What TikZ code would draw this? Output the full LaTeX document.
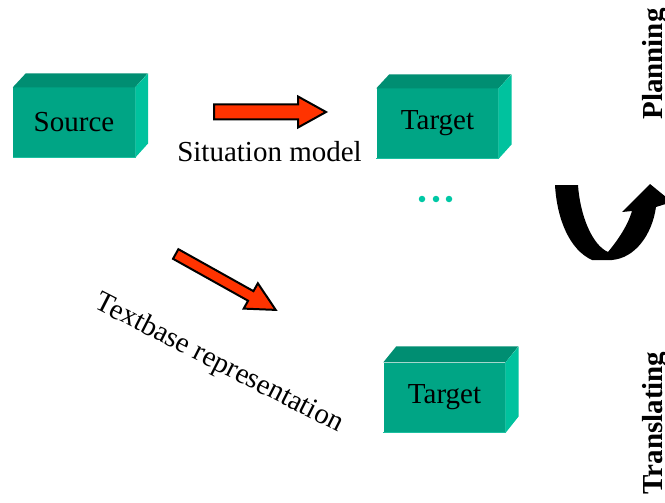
\documentclass[tikz,border=0pt]{standalone}
\usepackage{fontspec}
\setmainfont{Liberation Serif}
\definecolor{frontc}{HTML}{00A585}
\definecolor{topc}{HTML}{008E72}
\definecolor{sidec}{HTML}{00C29E}
\definecolor{edgec}{HTML}{1CBFA0}
\definecolor{dotc}{HTML}{00C8A5}
\definecolor{arrowred}{HTML}{FF3300}
\begin{document}
\begin{tikzpicture}[x=1pt,y=-1pt,
  box/.style={fill=frontc, minimum width=122pt, minimum height=70pt, inner sep=0pt,
    font=\fontsize{29}{33}\selectfont},
  lbl/.style={font=\fontsize{29}{33}\selectfont, inner sep=0pt},
  vlbl/.style={font=\fontsize{29}{33}\selectfont\bfseries, inner sep=0pt, rotate=90},
  redarrow/.style={fill=arrowred, draw=black, line width=2pt, line join=miter},
  dot/.style={circle, fill=dotc, inner sep=0pt, minimum size=6.5pt}
]
\useasboundingbox (0,0) rectangle (665,503);

% boxes
\node[box] (src) at (74,122.5) {Source};
\node[box] (tg1) at (437.5,123.5) {Target};
\node[box] (tg2) at (444.5,397.5) {Target};
\foreach \n/\dx/\dy in {src/13/14, tg1/13/14, tg2/13/16}{
  \fill[topc] (\n.north west) -- ++(\dx,-\dy) -- ++(122,0) -- (\n.north east) -- cycle;
  \fill[sidec] (\n.north east) -- ++(\dx,-\dy) -- ++(0,70) -- (\n.south east) -- cycle;
  \draw[edgec, line width=1pt] (\n.south west) -- (\n.south east) -- (\n.north east);
}

% red arrows
\begin{scope}[shift={(214,112)}]
  \draw[redarrow] (0,-7.5) -- (84,-7.5) -- (84,-15.5) -- (112,0) -- (84,15.5) -- (84,7.5) -- (0,7.5) -- cycle;
\end{scope}
\begin{scope}[shift={(175.7,254)}, rotate=-29.2]
  \draw[redarrow] (0,-5.5) -- (86,-5.5) -- (86,-14.5) -- (114.6,0) -- (86,14.5) -- (86,5.5) -- (0,5.5) -- cycle;
\end{scope}

% labels
\node[lbl, anchor=base] (sit) at (269.5,161) {Situation model};
\node[lbl, rotate=-27] (txb) at (219,364) {Textbase representation};
\node[vlbl, anchor=base] (plan) at (662,64) {Planning};
\node[vlbl, anchor=base] (trans) at (662,423) {Translating};

% dots
\node[dot] (d1) at (422,199) {};
\node[dot] (d2) at (436,199) {};
\node[dot] (d3) at (449,199) {};

% black U arrow
\fill[black] (555,185) -- (578,185)
  .. controls (580,215) and (592,245) .. (608,252)
  .. controls (618,240) and (628,225) .. (632,211)
  -- (622,212) -- (650,184) -- (672,202) -- (656,207)
  .. controls (652,235) and (635,258) .. (612,260)
  -- (592,260)
  .. controls (570,250) and (557,220) .. (555,185) -- cycle;
\end{tikzpicture}
\end{document}
